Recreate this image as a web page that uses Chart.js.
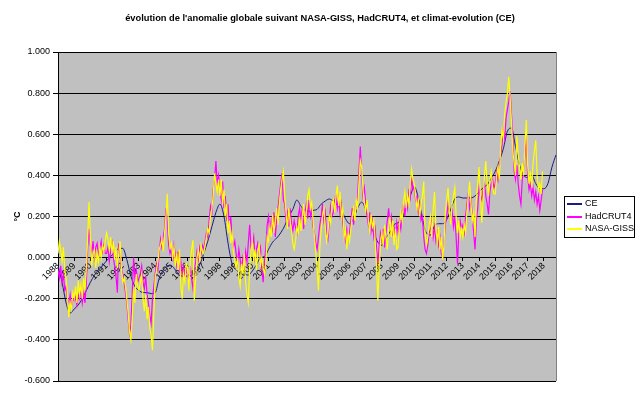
<!DOCTYPE html>
<html>
<head>
<meta charset="utf-8">
<script src="https://cdn.jsdelivr.net/npm/chart.js@4.4.1/dist/chart.umd.min.js"></script>
<style>
  html, body { margin: 0; padding: 0; background: #fff; }
  #wrap { width: 640px; height: 398px; }
</style>
</head>
<body>
<div id="wrap"><canvas id="chart" width="640" height="398"></canvas></div>
<script>
// monthly series, index 0 = Jan 1988
const FIRST_YEAR = 1988
const LAST_MONTH = 369
const YEAR_TICKS = [0, 12, 24, 36, 48, 60, 72, 84, 96, 108, 120, 132, 144, 156, 168, 180,
  192, 204, 216, 228, 240, 252, 264, 276, 288, 300, 312, 324, 336, 348, 360]
const TITLE = "évolution de l'anomalie globale suivant NASA-GISS, HadCRUT4, et climat-evolution (CE)"
const FONT = '"Liberation Sans", Arial, sans-serif'

// HadCRUT4, one row per year
const hadcrut = [
  -0.06,-0.10,-0.04,-0.12,-0.08,-0.16,-0.14,-0.20,-0.22,-0.18,-0.24,-0.20,
  -0.21,-0.19,-0.23,-0.18,-0.20,-0.15,-0.22,-0.17,-0.22,-0.12, 0.05, 0.14,
   0.06, 0.02, 0.08, 0.00, 0.05, 0.07, 0.01, 0.04, 0.08, 0.03, 0.06, 0.02,
   0.02, 0.05,-0.02, 0.03, 0.07, 0.00,-0.04,-0.09,-0.17, 0.07, 0.03,-0.05,
  -0.08,-0.12,-0.17,-0.22,-0.30,-0.37,-0.33,-0.18, 0.00,-0.10,-0.06,-0.12,
  -0.10,-0.08,-0.04,-0.12,-0.15,-0.09,-0.18,-0.22,-0.28,-0.32,-0.20,-0.14,
  -0.08,-0.03,-0.06, 0.02, 0.09, 0.05, 0.10, 0.14, 0.24, 0.18, 0.06, 0.02,
   0.04,-0.02, 0.06, 0.01,-0.04, 0.03,-0.06,-0.02,-0.08,-0.04,-0.10,-0.06,
  -0.08,-0.12,-0.04,-0.10,-0.15,-0.06,-0.02, 0.03,-0.01, 0.05, 0.02, 0.06,
   0.04, 0.08, 0.12, 0.10, 0.18, 0.25, 0.22, 0.33, 0.38, 0.47, 0.36, 0.40,
   0.33, 0.28, 0.37, 0.24, 0.30, 0.18, 0.26, 0.14, 0.20, 0.10, 0.05, 0.08,
   0.02,-0.03, 0.04,-0.01,-0.06, 0.00,-0.04, 0.03,-0.02, 0.07, 0.16, 0.05,
   0.06, 0.10, 0.00, 0.04, 0.07, 0.02, 0.05,-0.05,-0.12,-0.02, 0.05, 0.16,
   0.20, 0.12, 0.18, 0.14, 0.22, 0.10, 0.18, 0.24, 0.30, 0.36, 0.41, 0.28,
   0.26, 0.18, 0.22, 0.15, 0.24, 0.17, 0.13, 0.18, 0.15, 0.12, 0.20, 0.24,
   0.18, 0.24, 0.14, 0.22, 0.26, 0.19, 0.28, 0.20, 0.23, 0.15, 0.12, 0.07,
   0.04, 0.10, 0.16, 0.20, 0.26, 0.18, 0.22, 0.12, 0.09, 0.18, 0.25, 0.20,
   0.22, 0.28, 0.30, 0.24, 0.29, 0.21, 0.26, 0.17, 0.12, 0.08, 0.14, 0.10,
   0.12, 0.18, 0.24, 0.16, 0.22, 0.26, 0.30, 0.42, 0.54, 0.40, 0.30, 0.34,
   0.26, 0.20, 0.16, 0.22, 0.13, 0.18, 0.10, 0.14, 0.05,-0.03, 0.06, 0.12,
   0.08, 0.14, 0.05, 0.12, 0.18, 0.24, 0.16, 0.20, 0.12, 0.15, 0.09, 0.17,
   0.12, 0.18, 0.14, 0.22, 0.26, 0.20, 0.28, 0.24, 0.32, 0.29, 0.39, 0.33,
   0.35, 0.28, 0.30, 0.22, 0.26, 0.18, 0.20, 0.10, 0.04, 0.02, 0.06, 0.12,
   0.14, 0.18, 0.10, 0.15, 0.08, 0.12, 0.06, 0.10, 0.02, 0.00, 0.08, 0.16,
   0.20, 0.26, 0.22, 0.18, 0.24, 0.15, 0.20, 0.10,-0.03, 0.12, 0.18, 0.14,
   0.16, 0.12, 0.20, 0.26, 0.31, 0.24, 0.28, 0.20, 0.12, 0.04, 0.18, 0.24,
   0.34, 0.30, 0.28, 0.33, 0.36, 0.30, 0.26, 0.21, 0.32, 0.36, 0.38, 0.34,
   0.36, 0.42, 0.38, 0.45, 0.50, 0.55, 0.62, 0.58, 0.68, 0.72, 0.76, 0.81,
   0.70, 0.58, 0.42, 0.38, 0.45, 0.36, 0.30, 0.26, 0.38, 0.42, 0.50, 0.59,
   0.40, 0.33, 0.36, 0.30, 0.34, 0.28, 0.32, 0.26, 0.30, 0.23, 0.28, 0.33,
]

// NASA-GISS, one row per year
const nasaGiss = [
   0.02, 0.08, 0.04,-0.02, 0.05,-0.06,-0.10,-0.18,-0.29,-0.22,-0.25,-0.17,
  -0.20,-0.14,-0.22,-0.11,-0.18,-0.13,-0.20,-0.10,-0.16,-0.05, 0.10, 0.27,
   0.10,-0.04, 0.02, 0.04,-0.05, 0.02,-0.02, 0.05, 0.00, 0.06, 0.03, 0.08,
   0.12, 0.09, 0.04, 0.10, 0.02, 0.08,-0.01, 0.05,-0.05, 0.02, 0.08,-0.05,
  -0.12,-0.10,-0.14,-0.20,-0.27,-0.36,-0.40,-0.30,-0.15,-0.22,-0.08,-0.14,
  -0.16,-0.12,-0.08,-0.20,-0.26,-0.18,-0.30,-0.24,-0.34,-0.38,-0.45,-0.28,
  -0.10,-0.06,-0.02, 0.04, 0.06, 0.09, 0.03, 0.12, 0.20, 0.31, 0.12, 0.05,
   0.07, 0.00, 0.05,-0.04, 0.02,-0.06, 0.04,-0.14,-0.20,-0.08,-0.12,-0.03,
  -0.05,-0.16,-0.02, 0.04, 0.085,-0.21,-0.10, 0.00, 0.04,-0.02, 0.06, 0.03,
   0.02, 0.06, 0.10, 0.14, 0.12, 0.20, 0.24, 0.30, 0.41, 0.36, 0.32, 0.38,
   0.30, 0.38, 0.26, 0.33, 0.20, 0.26, 0.12, 0.18, 0.07, 0.12, 0.03,-0.02,
  -0.05, 0.00,-0.10,-0.14,-0.03,-0.08, 0.02,-0.12,-0.18,-0.22,-0.05, 0.03,
   0.08,-0.01, 0.04,-0.06, 0.02, 0.07,-0.04, 0.00,-0.05,-0.08,-0.03, 0.10,
   0.08, 0.15, 0.10, 0.21, 0.12, 0.18, 0.24, 0.16, 0.26, 0.33, 0.38, 0.42,
   0.30, 0.22, 0.14, 0.24, 0.18, 0.13, 0.07, 0.04, 0.08, 0.15, 0.12, 0.20,
   0.13, 0.20, 0.26, 0.16, 0.22, 0.30, 0.33, 0.24, 0.27, 0.18, 0.10, 0.02,
  -0.05,-0.16, 0.05, 0.14, 0.20, 0.24, 0.15, 0.08, 0.12, 0.20, 0.17, 0.26,
   0.28, 0.22, 0.30, 0.35, 0.25, 0.32, 0.20, 0.24, 0.10, 0.14, 0.04, 0.12,
   0.08, 0.14, 0.20, 0.24, 0.18, 0.28, 0.24, 0.36, 0.47, 0.44, 0.33, 0.27,
   0.23, 0.28, 0.18, 0.13, 0.21, 0.15, 0.18, 0.08,-0.04,-0.21,-0.05, 0.08,
   0.12, 0.06, 0.16, 0.10, 0.04, 0.14, 0.20, 0.10, 0.18, 0.06, 0.14, 0.04,
   0.05, 0.16, 0.22, 0.18, 0.27, 0.32, 0.24, 0.30, 0.26, 0.36, 0.43, 0.38,
   0.36, 0.30, 0.24, 0.28, 0.20, 0.26, 0.30, 0.37, 0.12, 0.06, 0.10, 0.16,
   0.20, 0.10, 0.24, 0.32, 0.14, 0.08, 0.15, 0.04, 0.10,-0.01, 0.06, 0.22,
   0.28, 0.34, 0.22, 0.16, 0.26, 0.30, 0.34, 0.20, 0.12, 0.18, 0.10, 0.14,
   0.10, 0.16, 0.12, 0.22, 0.30, 0.37, 0.26, 0.18, 0.22, 0.10, 0.28, 0.36,
   0.44, 0.30, 0.17, 0.28, 0.40, 0.47, 0.36, 0.30, 0.38, 0.42, 0.34, 0.31,
   0.31, 0.40, 0.44, 0.38, 0.54, 0.62, 0.58, 0.70, 0.76, 0.80, 0.88, 0.78,
   0.66, 0.52, 0.46, 0.40, 0.59, 0.50, 0.44, 0.38, 0.46, 0.40, 0.55, 0.67,
   0.45, 0.36, 0.42, 0.34, 0.46, 0.52, 0.57, 0.40, 0.33, 0.36, 0.31, 0.42,
]

// climat-evolution smoothed curve, one value every 3 months
const CE_STEP = 3
const ceCurve = [
  -0.04,-0.12,-0.22,-0.27,-0.25,-0.23,-0.20,-0.16,-0.12,-0.085,-0.06,-0.04,
  -0.015,0.005,0.025,0.045,0.045,-0.01,-0.09,-0.14,-0.16,-0.17,-0.17,-0.175,
  -0.17,-0.10,-0.06,-0.04,-0.04,-0.06,-0.085,-0.09,-0.09,-0.085,-0.075,-0.035,
   0.02, 0.08, 0.15, 0.22, 0.26, 0.20, 0.07,-0.03,-0.06,-0.075,-0.08,-0.085,
  -0.065,-0.035,0.00,0.005,0.04,0.075,0.095,0.12,0.155,0.20,0.235,0.28,
   0.25, 0.23, 0.225,0.23, 0.235,0.26, 0.275,0.285,0.275,0.255,0.23, 0.19,
   0.165,0.19, 0.24, 0.27, 0.235,0.175,0.12, 0.075,0.06, 0.095,0.125,0.16,
   0.17, 0.19, 0.25, 0.30, 0.345,0.29, 0.19, 0.12, 0.11, 0.155,0.165,0.165,
   0.185,0.235,0.285,0.295,0.29, 0.29, 0.29, 0.30, 0.32, 0.34, 0.355,0.385,
   0.42, 0.47, 0.53, 0.615,0.63, 0.54, 0.45, 0.40, 0.39, 0.40, 0.36, 0.335,
   0.335,0.36, 0.44, 0.50,
]

const Y_MIN = -0.6
const Y_MAX = 1.0
const Y_STEP = 0.2

const toPoints = (arr, step = 1) => arr.map((v, i) => ({ x: i * step, y: v }))

const plotFrame = {
  id: 'plotFrame',
  beforeDraw(chart) {
    const { ctx, chartArea: a } = chart
    ctx.save()
    ctx.fillStyle = '#c0c0c0'
    ctx.fillRect(a.left, a.top, a.right - a.left, a.bottom - a.top)
    ctx.restore()
  },
  beforeDatasetsDraw(chart) {
    const { ctx, chartArea: a } = chart
    ctx.save()
    ctx.strokeStyle = '#808080'
    ctx.lineWidth = 1
    ctx.beginPath()
    ctx.moveTo(Math.round(a.right) + 0.5, a.top)
    ctx.lineTo(Math.round(a.right) + 0.5, a.bottom)
    ctx.stroke()
    ctx.restore()
  },
  afterDraw(chart) {
    const { ctx } = chart
    ctx.save()
    // title, centred on the whole picture
    ctx.fillStyle = '#000'
    ctx.font = 'bold 9.3px ' + FONT
    ctx.textAlign = 'center'
    ctx.textBaseline = 'middle'
    ctx.fillText(TITLE, 320, 18)

    // Excel style legend box to the right of the plot
    const x = 564, y = 196, w = 70, h = 41, row = 12.5
    ctx.fillStyle = '#fff'
    ctx.fillRect(x, y, w, h)
    ctx.strokeStyle = '#000'
    ctx.lineWidth = 1
    ctx.strokeRect(x + 0.5, y + 0.5, w, h)
    ctx.font = '9px ' + FONT
    ctx.textAlign = 'left'
    chart.data.datasets.forEach((ds, i) => {
      const cy = y + 8 + i * row
      ctx.strokeStyle = ds.borderColor
      ctx.lineWidth = 2
      ctx.beginPath()
      ctx.moveTo(x + 3, Math.round(cy))
      ctx.lineTo(x + 18, Math.round(cy))
      ctx.stroke()
      ctx.fillStyle = '#000'
      ctx.fillText(ds.label, x + 21, cy)
    })
    ctx.restore()
  },
}

new Chart(document.getElementById('chart'), {
  type: 'line',
  data: {
    datasets: [
      {
        label: 'CE',
        data: toPoints(ceCurve, CE_STEP),
        borderColor: '#1c1c7c',
        borderWidth: 1,
        pointRadius: 0,
        cubicInterpolationMode: 'monotone',
        order: 3,
      },
      {
        label: 'HadCRUT4',
        data: toPoints(hadcrut),
        borderColor: '#ff00ff',
        borderWidth: 1.2,
        pointRadius: 0,
        tension: 0,
        order: 2,
      },
      {
        label: 'NASA-GISS',
        data: toPoints(nasaGiss),
        borderColor: '#ffff00',
        borderWidth: 1.2,
        pointRadius: 0,
        tension: 0,
        order: 1,
      },
    ],
  },
  options: {
    responsive: false,
    animation: false,
    layout: { padding: { left: 0, right: 84, bottom: 17, top: 52 } },
    plugins: {
      legend: { display: false },
      tooltip: { enabled: false },
      title: { display: false },
    },
    scales: {
      x: {
        type: 'linear',
        position: { y: 0 },
        min: 0,
        max: LAST_MONTH,
        afterBuildTicks: (scale) => {
          scale.ticks = YEAR_TICKS.map(v => ({ value: v }))
        },
        ticks: {
          autoSkip: false,
          minRotation: 45,
          maxRotation: 45,
          padding: 0,
          color: '#000',
          font: { family: FONT, size: 9 },
          callback: (v) => String(FIRST_YEAR + v / 12),
        },
        grid: { drawOnChartArea: false, drawTicks: true, tickLength: 3, color: '#000' },
        border: { display: true, color: '#000' },
      },
      y: {
        min: Y_MIN,
        max: Y_MAX,
        afterFit: (scale) => { scale.width = 58 },
        ticks: {
          stepSize: Y_STEP,
          padding: 3,
          color: '#000',
          font: { family: FONT, size: 9 },
          callback: (v) => (Math.abs(v) < 1e-9 ? 0 : v).toFixed(3),
        },
        grid: { color: '#000', lineWidth: 1, tickLength: 5 },
        border: { display: true, color: '#000' },
        title: {
          display: true,
          text: '°C',
          color: '#000',
          font: { family: FONT, size: 9, weight: 'bold' },
          padding: { top: 12, bottom: 0 },
        },
      },
    },
  },
  plugins: [plotFrame],
})
</script>
</body>
</html>
